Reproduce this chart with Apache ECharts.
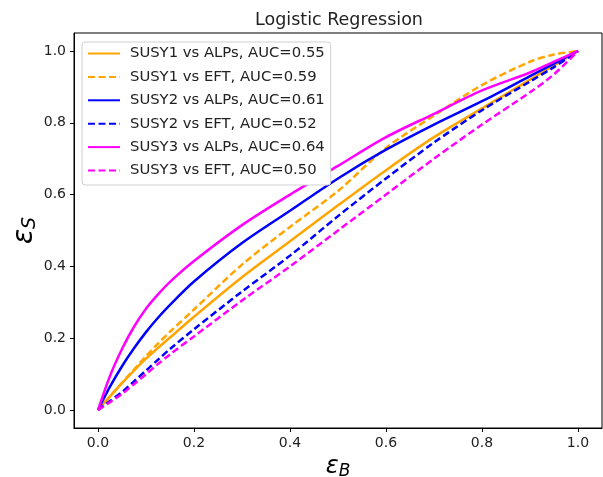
<!DOCTYPE html>
<html>
<head>
<meta charset="utf-8">
<script src="https://cdn.jsdelivr.net/npm/echarts@6/dist/echarts.min.js"></script>
<style>
html,body{margin:0;padding:0;background:#fff;}
#c{width:603px;height:477px;}
</style>
</head>
<body>
<div id="c"></div>
<script>
// ---- data ----
const titleText = 'Logistic Regression';
const tickValues = [0, 0.2, 0.4, 0.6, 0.8, 1.0];
const effB      = [0, 0.025, 0.05, 0.075, 0.1, 0.125, 0.15, 0.2, 0.3, 0.4, 0.5, 0.6, 0.7, 0.8, 0.9, 0.95, 1];
const susy1Alps = [0, 0.038, 0.075, 0.11, 0.143, 0.173, 0.202, 0.26, 0.37, 0.47, 0.57, 0.668, 0.76, 0.84, 0.92, 0.96, 1];
const susy1Eft  = [0, 0.038, 0.076, 0.113, 0.15, 0.185, 0.218, 0.28, 0.405, 0.51, 0.61, 0.73, 0.82, 0.905, 0.97, 0.99, 1];
const susy2Alps = [0, 0.065, 0.122, 0.172, 0.217, 0.257, 0.293, 0.358, 0.465, 0.555, 0.645, 0.725, 0.795, 0.86, 0.93, 0.965, 1];
const susy2Eft  = [0, 0.025, 0.05, 0.08, 0.11, 0.14, 0.17, 0.225, 0.33, 0.43, 0.54, 0.645, 0.745, 0.835, 0.915, 0.955, 1];
const susy3Alps = [0, 0.095, 0.17, 0.232, 0.282, 0.322, 0.357, 0.415, 0.515, 0.60, 0.68, 0.76, 0.825, 0.89, 0.94, 0.97, 1];
const susy3Eft  = [0, 0.022, 0.045, 0.072, 0.10, 0.128, 0.155, 0.205, 0.305, 0.40, 0.50, 0.60, 0.70, 0.795, 0.885, 0.935, 1];
const seriesNames = [
  'SUSY1 vs ALPs, AUC=0.55',
  'SUSY1 vs EFT, AUC=0.59',
  'SUSY2 vs ALPs, AUC=0.61',
  'SUSY2 vs EFT, AUC=0.52',
  'SUSY3 vs ALPs, AUC=0.64',
  'SUSY3 vs EFT, AUC=0.50'
];
const seriesValues = [susy1Alps, susy1Eft, susy2Alps, susy2Eft, susy3Alps, susy3Eft];
const seriesColors = ['#FFA500', '#FFA500', '#0000FF', '#0000FF', '#FF00FF', '#FF00FF'];
const seriesDashed = [false, true, false, true, false, true];

const font = 'DejaVu Sans';
const chart = echarts.init(document.getElementById('c'), null, {renderer: 'canvas'});

const series = seriesValues.map((vals, i) => ({
  name: seriesNames[i],
  type: 'line',
  data: effB.map((x, j) => [x, vals[j]]),
  showSymbol: false,
  symbol: 'none',
  smooth: 0.3,
  animation: false,
  lineStyle: {
    color: seriesColors[i],
    width: 2.5,
    type: seriesDashed[i] ? [7, 3.5] : 'solid'
  },
  itemStyle: {color: seriesColors[i]}
}));

const axisCommon = {
  type: 'value',
  min: -0.05,
  max: 1.05,
  splitLine: {show: false},
  axisLine: {show: true, onZero: false, lineStyle: {color: '#000', width: 1}},
  axisTick: {show: true, length: 4, lineStyle: {color: '#000', width: 1}, customValues: tickValues},
  axisLabel: {
    customValues: tickValues,
    color: '#222', fontFamily: font, fontSize: 14,
    formatter: v => v.toFixed(1)
  }
};

chart.setOption({
  animation: false,
  backgroundColor: '#fff',
  title: {
    text: titleText,
    left: 334, top: 6, textAlign: 'center',
    textStyle: {fontFamily: font, fontSize: 17.5, fontWeight: 'normal', color: '#222'}
  },
  grid: {
    left: 74, right: 1, top: 33, bottom: 49,
    containLabel: false,
    outerBoundsMode: 'none',
    show: true, borderColor: '#000', borderWidth: 1, backgroundColor: 'transparent'
  },
  legend: {
    orient: 'vertical',
    left: 82, top: 42,
    itemWidth: 32, itemHeight: 14, itemGap: 8.4,
    padding: [4, 6, 7, 5],
    backgroundColor: '#fff',
    borderColor: '#d0d0d0', borderWidth: 1, borderRadius: 3,
    itemStyle: {opacity: 0},
    textStyle: {fontFamily: font, fontSize: 14.8, lineHeight: 14, color: '#222', padding: [0, 0, 0, 5]},
    data: seriesNames
  },
  xAxis: Object.assign({}, axisCommon, {
    name: '{e|ε}{s|B}',
    nameLocation: 'middle', nameGap: 25,
    nameTextStyle: {
      rich: {
        e: {fontFamily: font, fontSize: 24, fontStyle: 'italic', color: '#000'},
        s: {fontFamily: font, fontSize: 17, fontStyle: 'italic', color: '#000', padding: [10, 0, 0, 0]}
      }
    },
    axisLabel: Object.assign({}, axisCommon.axisLabel, {margin: 8})
  }),
  yAxis: Object.assign({}, axisCommon, {
    name: '{e|ε}{s|S}',
    nameLocation: 'middle', nameGap: 34,
    nameMoveOverlap: false,
    nameTextStyle: {
      rich: {
        e: {fontFamily: font, fontSize: 28, fontStyle: 'italic', color: '#000'},
        s: {fontFamily: font, fontSize: 19, fontStyle: 'italic', color: '#000', padding: [12, 0, 0, 0]}
      }
    },
    axisLabel: Object.assign({}, axisCommon.axisLabel, {margin: 8})
  }),
  series: series
});
</script>
</body>
</html>
